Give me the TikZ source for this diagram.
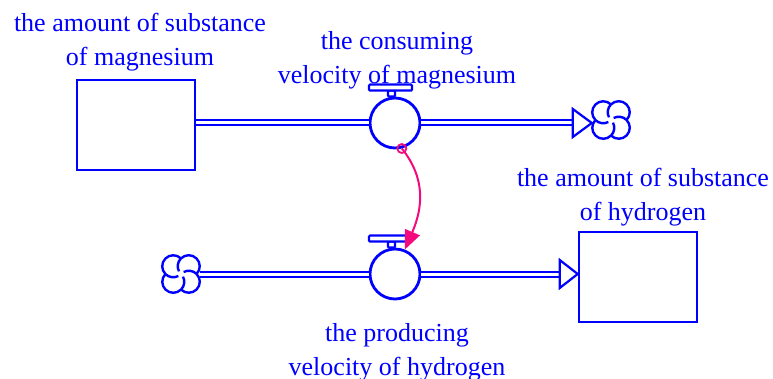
\documentclass[tikz,border=0pt]{standalone}
\usepackage{fontspec}
\setmainfont{Liberation Serif}
\usetikzlibrary{arrows.meta}
\definecolor{vblue}{RGB}{0,0,255}
\definecolor{vpink}{RGB}{245,10,125}
\tikzset{
  stock/.style={draw=vblue,line width=2.6pt,minimum width=118pt,minimum height=90pt,inner sep=0pt},
  valve/.style={circle,draw=vblue,line width=2.8pt,minimum size=50pt,inner sep=0pt,fill=white},
  handle/.style={draw=vblue,line width=2.2pt,fill=white,rounded corners=1pt},
  pipe/.style={draw=vblue,line width=2pt,double=white,double distance=3pt},
  flowhead/.style={draw=vblue,line width=2.2pt,fill=white,line join=miter},
  lbl/.style={text=vblue,align=center,anchor=north,inner sep=0pt,font=\fontsize{26}{34}\selectfont},
  cloudnode/.style={minimum size=38pt,inner sep=0pt},
  cloud/.pic={
    \foreach \a in {0,90,180,270}
      \draw[vblue,line width=2.4pt] (\a+90:15.5) arc[start angle=\a+135,end angle=\a-118,radius=11];
  },
  influence/.style={vpink,line width=2pt,-{Triangle[length=19pt,width=16pt]}},
}
\begin{document}
\begin{tikzpicture}[x=1pt,y=-1pt]
  \useasboundingbox (0,0) rectangle (773,379);
  % stocks, valves and clouds
  \node[stock] (mg) at (136,125) {};
  \node[stock] (h2) at (638,277) {};
  \node[cloudnode] (sink) at (611,120) {};
  \node[cloudnode] (src) at (181,274) {};
  \pic at (sink) {cloud};
  \pic at (src) {cloud};
  \node[valve] (cons) at (395,123) {};
  \node[valve] (prod) at (395,274) {};
  % flow pipes
  \path (sink.west |- cons) coordinate (sinktip);
  \path (h2.west |- prod) coordinate (h2tip);
  \path (sinktip) ++(-19,0) coordinate (sinkbase);
  \path (h2tip) ++(-18,0) coordinate (h2base);
  \draw[pipe] (mg.east |- cons) -- (cons);
  \draw[pipe] (cons) -- (sinkbase);
  \draw[pipe] (src.east) -- (prod);
  \draw[pipe] (prod) -- (h2base);
  \draw[flowhead] (sinktip) -- ++(-19,-14) -- ++(0,28) -- cycle;
  \draw[flowhead] (h2tip) -- ++(-18,-14) -- ++(0,28) -- cycle;
  % valve handles
  \draw[handle] (cons.north) ++(-7,0) rectangle ++(7,-6);
  \draw[handle] (cons.north) ++(-26,-6) rectangle ++(43,-6);
  \draw[handle] (prod.north) ++(-7,0) rectangle ++(7,-6);
  \draw[handle] (prod.north) ++(-26,-6) rectangle ++(43,-6);
  % influence
  \draw[vpink,line width=1.8pt] (cons.-75) circle[radius=4.5];
  \draw[influence] (cons.-75) .. controls +(24,30) and +(18,-42) .. (prod.68);
  % labels
  \node[lbl] (mglbl) at (140,13) {the amount of substance\\of magnesium};
  \node[lbl] (conslbl) at (397,31) {the consuming\\velocity of magnesium};
  \node[lbl] (h2lbl) at (643,168) {the amount of substance\\of hydrogen};
  \node[lbl] (prodlbl) at (397,323) {the producing\\velocity of hydrogen};
\end{tikzpicture}
\end{document}
